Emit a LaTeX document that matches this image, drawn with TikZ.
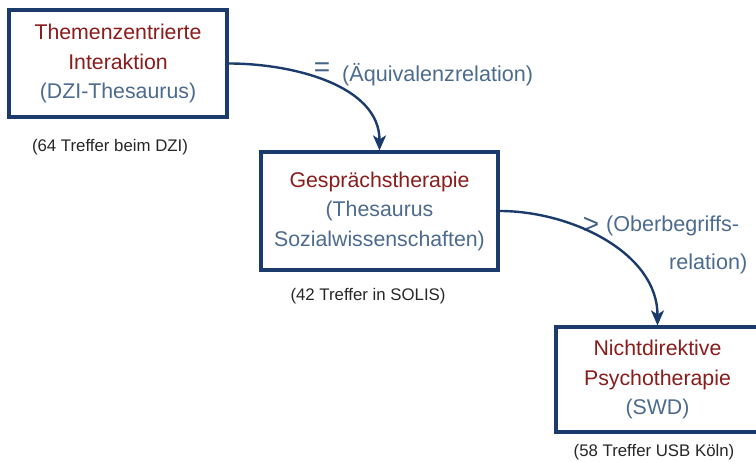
\documentclass[tikz,border=0pt]{standalone}
\usepackage{fontspec}
\setmainfont{Liberation Sans}
\usetikzlibrary{arrows.meta}
\definecolor{boxblue}{HTML}{1B3B6C}
\definecolor{termred}{HTML}{8B1C1C}
\definecolor{greyblue}{HTML}{4C6B8E}
\definecolor{labelgrey}{HTML}{262626}
\tikzset{
  termbox/.style={draw=boxblue, line width=3.2pt, fill=white, rectangle, align=center,
    inner sep=0pt, font=\fontsize{21.3}{29.5}\selectfont},
  hitlabel/.style={font=\fontsize{16.8}{18}\selectfont, text=labelgrey, inner sep=0pt},
  relation/.style={font=\fontsize{21.6}{24}\selectfont, text=greyblue, inner sep=0pt},
  relsym/.style={font=\fontsize{28}{30}\selectfont, text=greyblue!80!boxblue, inner sep=0pt},
  relarrow/.style={draw=boxblue, line width=2.4pt, -{Stealth[length=15pt,width=13pt,inset=4pt]}}
}
\begin{document}
\begin{tikzpicture}[x=1pt,y=-1pt]
\useasboundingbox (0,0) rectangle (756,462);
\clip (0,0) rectangle (756,462);
\node[termbox, minimum width=218pt, minimum height=107pt] (b1) at (118,63.5)
  {\textcolor{termred}{Themenzentrierte}\\\textcolor{termred}{Interaktion}\\\textcolor{greyblue}{(DZI-Thesaurus)}};
\node[termbox, minimum width=237pt, minimum height=118pt] (b2) at (379.5,211)
  {\textcolor{termred}{Gesprächstherapie}\\\textcolor{greyblue}{(Thesaurus}\\\textcolor{greyblue}{Sozialwissenschaften)}};
\node[termbox, minimum width=203pt, minimum height=105pt] (b3) at (657.5,379.5)
  {\textcolor{termred}{Nichtdirektive}\\\textcolor{termred}{Psychotherapie}\\\textcolor{greyblue}{(SWD)}};
\node[hitlabel] (h1) at (110,147) {(64 Treffer beim DZI)};
\node[hitlabel] (h2) at (368,296) {(42 Treffer in SOLIS)};
\node[hitlabel] (h3) at (654,452) {(58 Treffer USB Köln)};
\node[relsym] (eq) at (322,70) {=};
\node[relation, anchor=west] (r1) at (342,75) {(Äquivalenzrelation)};
\node[relsym] (gt) at (591,225) {>};
\node[relation, anchor=west] (r2a) at (606,226) {(Oberbegriffs-};
\node[relation, anchor=west] (r2b) at (669,264) {relation)};
\draw[relarrow] (b1.east) to[out=0, in=90, looseness=0.95] (b2.north);
\draw[relarrow] (b2.east) to[out=0, in=90, looseness=0.95] (b3.north);
\end{tikzpicture}
\end{document}
